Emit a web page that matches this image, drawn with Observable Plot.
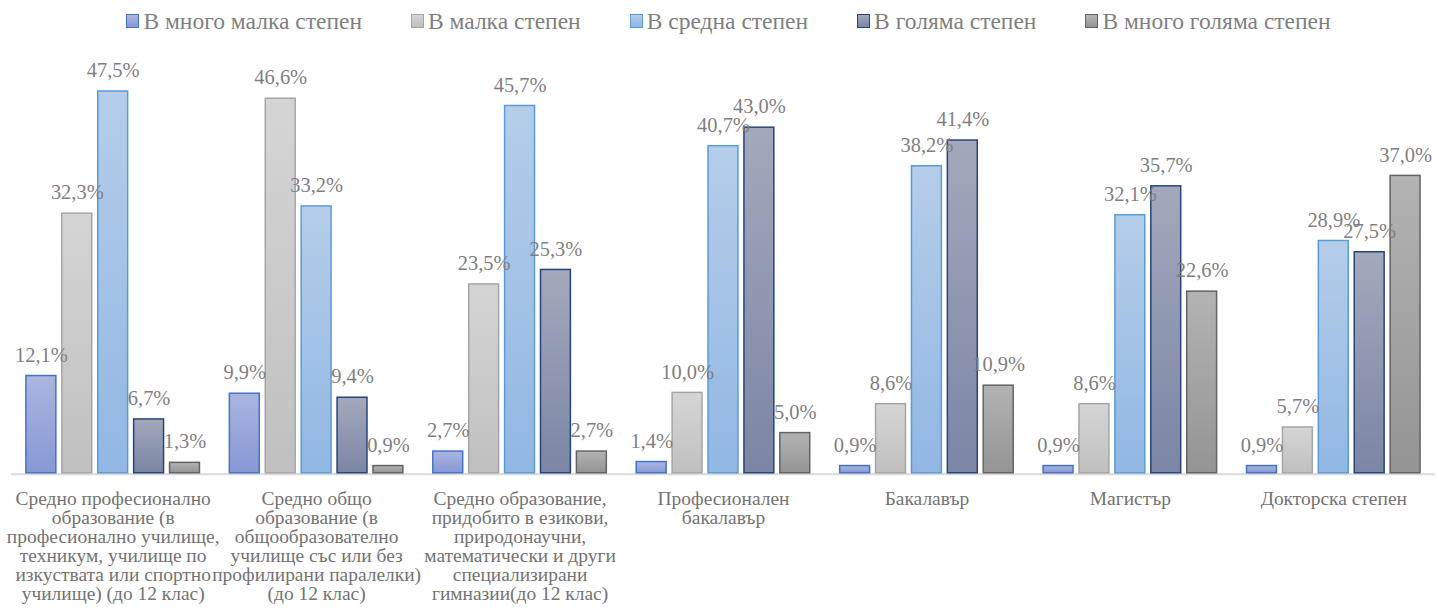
<!DOCTYPE html>
<html><head><meta charset="utf-8">
<script src="https://cdn.jsdelivr.net/npm/d3@7"></script>
<script src="https://cdn.jsdelivr.net/npm/@observablehq/plot@0.6"></script>
<style>
html,body{margin:0;padding:0;background:#fff;overflow:hidden;width:1436px;height:613px;}
#legend{height:40px;display:flex;justify-content:center;align-items:center;font-family:"Liberation Serif",serif;font-size:23.5px;color:#7f7f7f;padding-left:21px;padding-top:2px;box-sizing:border-box;}
.item{display:flex;align-items:center;margin:0 24.5px;}
.sw{width:11px;height:12px;margin-right:4px;border:1.5px solid;}
</style></head><body>
<div id="legend"></div><div id="chart"></div>
<script>
const categories = [
  "Средно професионално\nобразование (в\nпрофесионално училище,\nтехникум, училище по\nизкуствата или спортно\nучилище) (до 12 клас)",
  "Средно общо\nобразование (в\nобщообразователно\nучилище със или без\nпрофилирани паралелки)\n(до 12 клас)",
  "Средно образование,\nпридобито в езикови,\nприродонаучни,\nматематически и други\nспециализирани\nгимназии(до 12 клас)",
  "Професионален\nбакалавър",
  "Бакалавър",
  "Магистър",
  "Докторска степен"
];
const series = ["В много малка степен", "В малка степен", "В средна степен", "В голяма степен", "В много голяма степен"];
const vMnogoMalka   = [12.1, 9.9, 2.7, 1.4, 0.9, 0.9, 0.9];
const vMalka        = [32.3, 46.6, 23.5, 10.0, 8.6, 8.6, 5.7];
const vSredna       = [47.5, 33.2, 45.7, 40.7, 38.2, 32.1, 28.9];
const vGolyama      = [6.7, 9.4, 25.3, 43.0, 41.4, 35.7, 27.5];
const vMnogoGolyama = [1.3, 0.9, 2.7, 5.0, 10.9, 22.6, 37.0];
const values = [vMnogoMalka, vMalka, vSredna, vGolyama, vMnogoGolyama];

const gradTop    = ["#abb5df", "#d5d5d5", "#b5cde9", "#a4a8bc", "#b3b3b3"];
const gradBottom = ["#8698d5", "#c0c0c0", "#91b7e3", "#7b85a5", "#949494"];
const strokes    = ["#4472c4", "#a5a5a5", "#5b9bd5", "#264478", "#636363"];

const rows = categories.flatMap((c, i) => series.map((s, j) => ({category: c, series: s, si: j, value: values[j][i]})));
const fmt = v => v.toFixed(1).replace(".", ",") + "%";

// legend
const legend = d3.select("#legend");
series.forEach((s, j) => {
  const it = legend.append("div").attr("class", "item");
  it.append("div").attr("class", "sw")
    .style("border-color", strokes[j])
    .style("background", `linear-gradient(${gradTop[j]}, ${gradBottom[j]})`);
  it.append("span").text(s);
});

const chart = Plot.plot({
  width: 1440, height: 573,
  marginLeft: 9, marginRight: 0, marginTop: 31, marginBottom: 139,
  style: {fontFamily: "'Liberation Serif', serif", background: "transparent", color: "#737373", overflow: "visible"},
  fx: {domain: categories, paddingInner: 0, paddingOuter: 0, label: null},
  x: {domain: series, paddingInner: 0.18, paddingOuter: 0.39, axis: null},
  y: {domain: [0, 50], axis: null},
  marks: [
    Plot.ruleY([0], {stroke: "#d9d9d9", strokeWidth: 2, dy: 1}),
    ...series.map((s, j) => Plot.barY(rows.filter(d => d.si === j), {
      fx: "category", x: "series", y: "value",
      fill: `url(#grad${j})`, stroke: strokes[j], strokeWidth: 1.5
    })),
    Plot.text(rows, {fx: "category", x: "series", y: "value", text: d => fmt(d.value),
      dy: -21, lineAnchor: "middle", fontSize: 20.5, fill: "#7f7f7f"}),
    Plot.axisFx({anchor: "bottom", tickSize: 0, tickPadding: 18.5, fontSize: 19.5, lineHeight: 0.975, label: null, fill: "#737373"})
  ]
});
const svg = d3.select(chart);
const defs = svg.insert("defs", ":first-child");
gradTop.forEach((t, j) => {
  const g = defs.append("linearGradient").attr("id", `grad${j}`).attr("x1", 0).attr("y1", 0).attr("x2", 0).attr("y2", 1);
  g.append("stop").attr("offset", "0%").attr("stop-color", t);
  g.append("stop").attr("offset", "100%").attr("stop-color", gradBottom[j]);
});
document.getElementById("chart").appendChild(chart);
</script>
</body></html>
